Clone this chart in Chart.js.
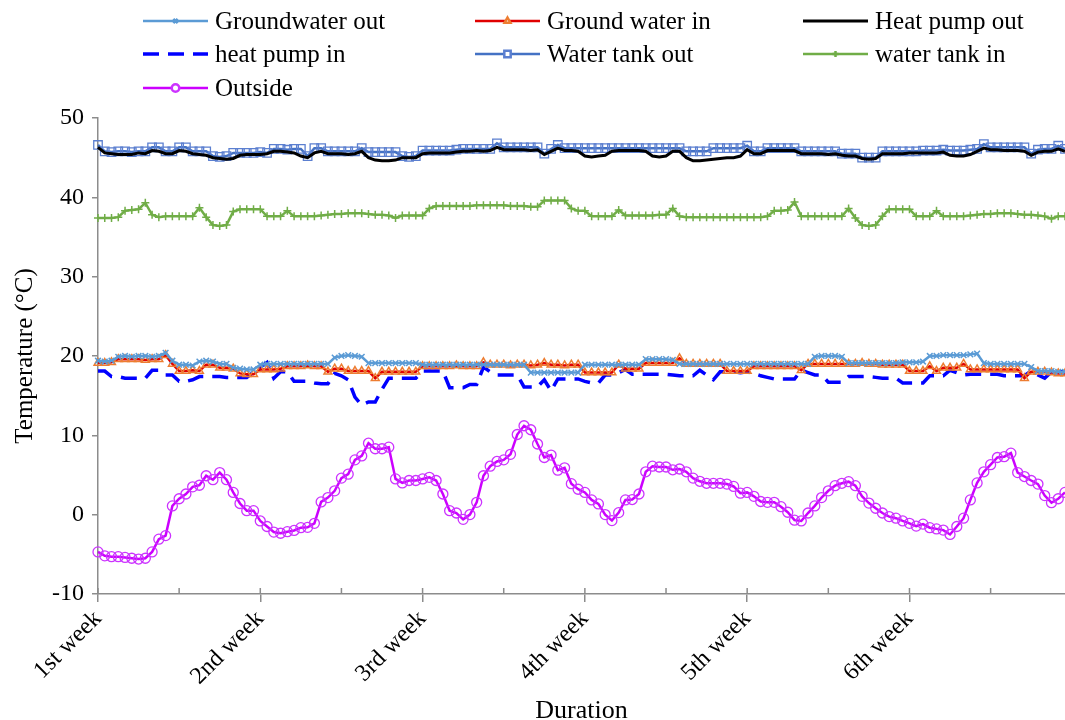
<!DOCTYPE html>
<html lang="en">
<head>
<meta charset="UTF-8">
<title>Temperatures over six weeks</title>
<script src="https://cdn.jsdelivr.net/npm/chart.js"></script>
<style>
  body { margin: 0; background: #fff; }
  #wrap { width: 1065px; height: 720px; }
</style>
</head>
<body>
<div id="wrap"><canvas id="chart" width="1065" height="720"></canvas></div>
<script>
// tick labels: one label per week, 24 readings per week
const weekLabels = ["1st week", "2nd week", "3rd week", "4th week", "5th week", "6th week"];
const pointsPerWeek = 24;

const groundwaterOut = [
  19.4, 19.3, 19.4, 19.9, 20.0, 19.9, 20.0, 20.0, 19.9, 20.0,
  20.4, 19.4, 18.9, 18.9, 18.8, 19.3, 19.4, 19.3, 19.0, 19.0,
  18.5, 18.4, 18.3, 18.3, 18.9, 19.0, 19.0, 19.0, 19.0, 19.0,
  19.0, 19.0, 19.0, 19.0, 19.0, 19.8, 20.0, 20.1, 20.0, 19.9,
  19.1, 19.1, 19.1, 19.1, 19.1, 19.1, 19.1, 19.1, 18.9, 18.9,
  18.9, 18.9, 18.9, 18.9, 18.9, 18.9, 18.9, 18.9, 18.9, 18.9,
  18.9, 18.9, 18.9, 18.9, 17.9, 17.9, 17.9, 17.9, 17.9, 17.9,
  17.9, 17.9, 18.9, 18.9, 18.9, 18.9, 18.9, 18.9, 18.9, 18.9,
  18.9, 19.6, 19.6, 19.6, 19.6, 19.5, 19.0, 19.0, 19.0, 19.0,
  19.0, 19.0, 19.0, 19.0, 19.0, 19.0, 19.0, 19.0, 19.0, 19.0,
  19.0, 19.0, 19.0, 19.0, 19.0, 19.0, 19.9, 20.0, 20.0, 20.0,
  19.9, 19.1, 19.1, 19.1, 19.1, 19.1, 19.1, 19.1, 19.1, 19.2,
  19.2, 19.2, 19.3, 20.0, 20.0, 20.1, 20.1, 20.1, 20.1, 20.2,
  20.3, 19.1, 19.0, 19.0, 19.0, 19.0, 19.0, 19.0, 18.6, 18.1,
  18.1, 18.1, 18.0, 18.0
];

const groundwaterIn = [
  19.1, 19.1, 19.2, 19.6, 19.6, 19.6, 19.6, 19.5, 19.6, 19.6,
  20.1, 19.0, 18.1, 18.1, 18.2, 18.1, 18.9, 18.9, 18.5, 18.5,
  18.4, 17.8, 17.7, 17.7, 18.3, 18.3, 18.3, 18.4, 18.7, 18.7,
  18.7, 18.8, 18.7, 18.7, 18.0, 18.4, 18.4, 18.1, 18.1, 18.1,
  18.1, 17.2, 18.0, 18.0, 18.0, 18.0, 18.0, 18.0, 18.7, 18.7,
  18.7, 18.7, 18.7, 18.8, 18.7, 18.7, 18.7, 19.2, 18.9, 18.9,
  18.9, 18.8, 18.9, 18.9, 18.8, 18.9, 19.1, 18.9, 18.9, 18.8,
  18.9, 18.9, 17.9, 17.9, 17.9, 17.9, 17.9, 18.9, 18.4, 18.4,
  18.4, 19.1, 19.1, 19.1, 19.1, 19.1, 19.7, 19.0, 19.0, 19.0,
  19.0, 19.0, 19.0, 18.1, 18.1, 18.1, 18.1, 18.7, 18.7, 18.7,
  18.7, 18.7, 18.7, 18.7, 18.2, 19.0, 19.0, 19.0, 19.0, 19.0,
  19.0, 19.0, 19.0, 19.1, 19.0, 19.0, 18.9, 18.9, 18.9, 18.9,
  18.1, 18.1, 18.1, 18.7, 18.1, 18.5, 18.5, 18.5, 19.0, 18.3,
  18.3, 18.3, 18.3, 18.3, 18.3, 18.3, 18.3, 17.2, 18.0, 18.0,
  18.0, 17.9, 17.8, 17.8
];

const heatPumpOut = [
  46.3, 45.6, 45.5, 45.4, 45.4, 45.4, 45.6, 45.5, 45.9, 45.8,
  45.5, 45.5, 45.9, 45.8, 45.5, 45.4, 45.3, 45.0, 44.9, 44.8,
  44.9, 45.3, 45.4, 45.4, 45.4, 45.5, 45.8, 45.8, 45.7, 45.6,
  45.2, 45.0, 45.6, 45.8, 45.5, 45.5, 45.5, 45.4, 45.5, 45.8,
  45.0, 44.7, 44.6, 44.6, 44.7, 45.0, 45.0, 45.0, 45.5, 45.6,
  45.6, 45.6, 45.6, 45.7, 45.8, 45.8, 45.9, 45.8, 45.9, 46.3,
  46.0, 46.0, 46.0, 46.0, 45.9, 46.0, 45.4, 45.8, 46.2, 45.9,
  45.9, 45.8, 45.2, 45.1, 45.2, 45.3, 45.8, 45.9, 45.9, 45.9,
  45.9, 45.8, 45.2, 45.1, 45.2, 45.8, 45.8, 45.0, 44.6, 44.6,
  44.7, 44.8, 44.9, 45.0, 45.0, 45.2, 46.0, 45.5, 45.5, 45.9,
  45.9, 45.9, 45.9, 45.9, 45.5, 45.5, 45.5, 45.5, 45.4, 45.5,
  45.3, 45.2, 45.2, 44.9, 44.8, 44.9, 45.5, 45.5, 45.5, 45.5,
  45.6, 45.6, 45.6, 45.6, 45.6, 45.7, 45.3, 45.2, 45.2, 45.4,
  45.8, 46.2, 46.0, 46.0, 45.9, 45.9, 45.9, 45.8, 45.3, 45.7,
  45.8, 45.8, 46.1, 45.8
];

const heatPumpIn = [
  18.1, 18.1, 17.4, 17.4, 17.2, 17.2, 17.2, 17.2, 18.2, 18.2,
  17.6, 17.6, 16.8, 16.8, 17.0, 17.4, 17.4, 17.4, 17.4, 17.3,
  17.3, 17.3, 17.3, 18.0, 18.6, 19.2, 17.2, 18.0, 18.0, 16.8,
  16.8, 16.8, 16.6, 16.5, 16.5, 17.8, 17.5, 17.0, 14.8, 13.8,
  14.2, 14.2, 15.8, 17.2, 17.2, 17.2, 17.2, 17.2, 18.1, 18.1,
  18.1, 18.1, 16.0, 16.0, 16.0, 16.4, 16.4, 18.6, 18.0, 17.6,
  17.6, 17.6, 17.6, 16.1, 16.1, 16.1, 17.0, 15.6, 17.1, 17.1,
  17.1, 17.1, 16.8, 16.6, 16.6, 17.6, 17.6, 17.9, 18.3, 17.7,
  17.7, 17.7, 17.7, 17.7, 17.7, 17.6, 17.5, 17.5, 17.5, 18.2,
  17.6, 17.0, 18.0, 18.0, 18.0, 17.9, 18.0, 17.8, 17.5, 17.3,
  17.1, 17.1, 17.1, 17.1, 18.2, 17.9, 17.6, 17.6, 16.7, 16.7,
  16.7, 17.4, 17.4, 17.4, 17.4, 17.3, 17.2, 17.2, 17.2, 16.6,
  16.6, 16.6, 16.6, 17.5, 17.5, 17.5, 18.2, 17.9, 17.6, 17.7,
  17.7, 17.7, 17.7, 17.7, 17.5, 17.5, 17.5, 17.5, 18.1, 17.6,
  17.2, 18.0, 18.0, 18.0
];

const waterTankOut = [
  46.6, 45.8, 45.7, 45.8, 45.8, 45.7, 45.8, 45.8, 46.3, 46.3,
  45.8, 45.8, 46.3, 46.3, 45.8, 45.8, 45.8, 45.2, 45.1, 45.2,
  45.6, 45.6, 45.6, 45.6, 45.7, 45.6, 46.1, 46.1, 46.0, 46.1,
  46.1, 45.2, 46.2, 46.2, 45.8, 45.8, 45.8, 45.8, 45.8, 46.2,
  45.7, 45.7, 45.7, 45.7, 45.7, 45.2, 45.1, 45.2, 45.9, 45.9,
  45.9, 45.9, 45.9, 46.0, 46.1, 46.1, 46.1, 46.1, 46.1, 46.8,
  46.3, 46.3, 46.3, 46.3, 46.3, 46.3, 45.5, 46.1, 46.6, 46.2,
  46.2, 46.2, 46.2, 46.2, 46.2, 46.2, 46.2, 46.2, 46.2, 46.2,
  46.2, 46.2, 46.2, 46.2, 46.2, 46.2, 46.2, 45.8, 45.8, 45.8,
  45.8, 46.2, 46.2, 46.2, 46.2, 46.2, 46.5, 45.8, 45.8, 46.2,
  46.2, 46.2, 46.2, 46.2, 45.8, 45.8, 45.8, 45.8, 45.8, 45.8,
  45.5, 45.5, 45.5, 45.0, 45.0, 45.0, 45.8, 45.8, 45.8, 45.8,
  45.8, 45.8, 45.9, 45.9, 45.9, 46.0, 45.9, 45.9, 45.9, 46.0,
  46.1, 46.7, 46.3, 46.3, 46.3, 46.3, 46.3, 46.3, 45.5, 46.0,
  46.1, 46.1, 46.5, 46.1
];

const waterTankIn = [
  37.4, 37.4, 37.4, 37.5, 38.3, 38.4, 38.5, 39.3, 37.8, 37.5,
  37.6, 37.6, 37.6, 37.6, 37.6, 38.7, 37.5, 36.5, 36.4, 36.5,
  38.2, 38.5, 38.5, 38.5, 38.5, 37.6, 37.6, 37.6, 38.3, 37.6,
  37.6, 37.6, 37.6, 37.7, 37.8, 37.9, 37.9, 38.0, 38.0, 38.0,
  37.9, 37.8, 37.8, 37.7, 37.4, 37.7, 37.7, 37.7, 37.7, 38.6,
  38.9, 38.9, 38.9, 38.9, 38.9, 38.9, 39.0, 39.0, 39.0, 39.0,
  39.0, 38.9, 38.9, 38.9, 38.8, 38.8, 39.6, 39.6, 39.6, 39.6,
  38.6, 38.3, 38.3, 37.6, 37.6, 37.6, 37.6, 38.4, 37.7, 37.7,
  37.7, 37.7, 37.7, 37.8, 37.8, 38.6, 37.6, 37.5, 37.5, 37.5,
  37.5, 37.5, 37.5, 37.5, 37.5, 37.5, 37.5, 37.5, 37.5, 37.6,
  38.3, 38.3, 38.4, 39.4, 37.6, 37.6, 37.6, 37.6, 37.6, 37.6,
  37.6, 38.6, 37.4, 36.5, 36.4, 36.5, 37.6, 38.5, 38.5, 38.5,
  38.5, 37.6, 37.6, 37.6, 38.3, 37.6, 37.6, 37.6, 37.6, 37.7,
  37.8, 37.9, 37.9, 38.0, 38.0, 38.0, 37.9, 37.8, 37.8, 37.7,
  37.6, 37.3, 37.6, 37.6
];

const outside = [
  -4.7, -5.2, -5.3, -5.3, -5.4, -5.5, -5.6, -5.5, -4.7, -3.1,
  -2.65, 1.1, 2.0, 2.6, 3.5, 3.7, 4.9, 4.4, 5.3, 4.4,
  2.8, 1.4, 0.5, 0.5, -0.8, -1.5, -2.2, -2.35, -2.15, -2.0,
  -1.65, -1.6, -1.1, 1.6, 2.15, 3.0, 4.6, 5.1, 6.9, 7.4,
  9.0, 8.3, 8.3, 8.5, 4.5, 4.0, 4.3, 4.3, 4.5, 4.7,
  4.3, 2.6, 0.5, 0.2, -0.6, 0.0, 1.55, 4.9, 6.1, 6.7,
  6.9, 7.6, 10.1, 11.2, 10.7, 8.9, 7.2, 7.5, 5.6, 5.9,
  3.9, 3.2, 2.8, 1.85, 1.35, 0.0, -0.75, 0.25, 1.85, 1.9,
  2.6, 5.4, 6.1, 6.0, 6.0, 5.65, 5.75, 5.4, 4.6, 4.2,
  3.95, 3.95, 3.95, 3.85, 3.55, 2.7, 2.8, 2.3, 1.65, 1.55,
  1.55, 1.0, 0.3, -0.7, -0.8, 0.2, 1.1, 2.15, 3.0, 3.65,
  3.95, 4.15, 3.65, 2.3, 1.45, 0.8, 0.2, -0.25, -0.45, -0.8,
  -1.1, -1.45, -1.2, -1.65, -1.8, -1.95, -2.5, -1.5, -0.45, 1.85,
  4.0, 5.4, 6.3, 7.2, 7.3, 7.75, 5.3, 4.8, 4.3, 3.85,
  2.4, 1.5, 2.0, 2.8
];

const labels = outside.map((v, i) => i % pointsPerWeek === 0 ? weekLabels[i / pointsPerWeek] : "");
const clear = "rgba(0,0,0,0)";
const axisGray = "#8c8c8c";
const serif = "'Liberation Serif', 'Times New Roman', serif";

// legend laid out in 3 columns like the original
const gridLegend = {
  id: "gridLegend",
  afterDraw(chart) {
    const ctx = chart.ctx;
    const lineX = [143, 475, 803];
    const rowY = [21, 54, 88];
    const lineLen = 65;
    chart.data.datasets.forEach((ds, k) => {
      const x0 = lineX[k % 3];
      const y = rowY[Math.floor(k / 3)];
      ctx.save();
      ctx.strokeStyle = ds.borderColor;
      ctx.lineWidth = ds.borderWidth;
      ctx.setLineDash(ds.borderDash || []);
      ctx.beginPath();
      ctx.moveTo(x0, y);
      ctx.lineTo(x0 + lineLen, y);
      ctx.stroke();
      ctx.setLineDash([]);
      if (ds.pointRadius > 0) {
        ctx.strokeStyle = ds.pointBorderColor;
        ctx.fillStyle = "#fff";
        Chart.helpers.drawPoint(ctx, {
          pointStyle: ds.pointStyle,
          radius: ds.pointRadius * 0.75,
          borderWidth: ds.pointBorderWidth,
          rotation: 0
        }, x0 + lineLen / 2, y);
      }
      ctx.fillStyle = "#000";
      ctx.font = "25px " + serif;
      ctx.textBaseline = "middle";
      ctx.textAlign = "left";
      ctx.fillText(ds.label, x0 + lineLen + 7, y + 1);
      ctx.restore();
    });
  }
};

// short inward tick marks on the x axis every half week
const innerTicks = {
  id: "innerTicks",
  afterDatasetsDraw(chart) {
    const xs = chart.scales.x;
    const ctx = chart.ctx;
    ctx.save();
    ctx.strokeStyle = axisGray;
    ctx.lineWidth = 1.5;
    ctx.beginPath();
    labels.forEach((l, i) => {
      if (i % (pointsPerWeek / 2) !== 0) return;
      const px = xs.getPixelForValue(i);
      ctx.moveTo(px, xs.top);
      ctx.lineTo(px, xs.top - 6);
    });
    ctx.stroke();
    ctx.restore();
  }
};

const ctx = document.getElementById("chart").getContext("2d");
new Chart(ctx, {
  type: "line",
  data: {
    labels: labels,
    datasets: [
      { label: "Groundwater out", data: groundwaterOut, borderColor: "#5B9BD5", borderWidth: 2.5,
        pointStyle: "crossRot", pointRadius: 4, pointBorderColor: "#5B9BD5", pointBackgroundColor: clear, pointBorderWidth: 1.5 },
      { label: "Ground water in", data: groundwaterIn, borderColor: "#E00000", borderWidth: 2.5,
        pointStyle: "triangle", pointRadius: 4.5, pointBorderColor: "#ED7D31", pointBackgroundColor: clear, pointBorderWidth: 1.5 },
      { label: "Heat pump out", data: heatPumpOut, borderColor: "#000000", borderWidth: 3, pointRadius: 0 },
      { label: "heat pump in", data: heatPumpIn, borderColor: "#0000FF", borderWidth: 3.5, borderDash: [16, 9], pointRadius: 0 },
      { label: "Water tank out", data: waterTankOut, borderColor: "#4472C4", borderWidth: 2.5,
        pointStyle: "rect", pointRadius: 6, pointBorderColor: "#5B7FD0", pointBackgroundColor: clear, pointBorderWidth: 1.3 },
      { label: "water tank in", data: waterTankIn, borderColor: "#70AD47", borderWidth: 2.5,
        pointStyle: "cross", pointRadius: 4, pointBorderColor: "#70AD47", pointBackgroundColor: clear, pointBorderWidth: 1.5 },
      { label: "Outside", data: outside, borderColor: "#CC00FF", borderWidth: 2.5,
        pointStyle: "circle", pointRadius: 5, pointBorderColor: "#CC33FF", pointBackgroundColor: clear, pointBorderWidth: 1.3 }
    ]
  },
  options: {
    responsive: false,
    animation: false,
    clip: false,
    elements: { line: { tension: 0 } },
    layout: { autoPadding: false, padding: { top: 118, left: 6, right: 0, bottom: 0 } },
    plugins: {
      legend: { display: false },
      tooltip: { enabled: false }
    },
    scales: {
      x: {
        type: "category",
        offset: false,
        // the plot runs to the right edge of the picture
        afterFit: scale => { scale.paddingRight = 0; },
        ticks: { autoSkip: false, maxRotation: 45, minRotation: 45, color: "#000", padding: 3,
                 font: { family: serif, size: 24 } },
        grid: { drawOnChartArea: false, tickLength: 8, lineWidth: 1.5,
                color: c => c.index % pointsPerWeek === 0 ? axisGray : clear },
        border: { color: axisGray, width: 1.5 },
        title: { display: true, text: "Duration", color: "#000", padding: { top: 2, bottom: -7 },
                 font: { family: serif, size: 26 } }
      },
      y: {
        min: -10, max: 50,
        ticks: { stepSize: 10, color: "#000", padding: 8, font: { family: serif, size: 24 } },
        grid: { drawOnChartArea: false, tickLength: 6, lineWidth: 1.5, color: axisGray },
        border: { color: axisGray, width: 1.5 },
        title: { display: true, text: "Temperature (°C)", color: "#000", padding: 4,
                 font: { family: serif, size: 25 } }
      }
    }
  },
  plugins: [gridLegend, innerTicks]
});
</script>
</body>
</html>
